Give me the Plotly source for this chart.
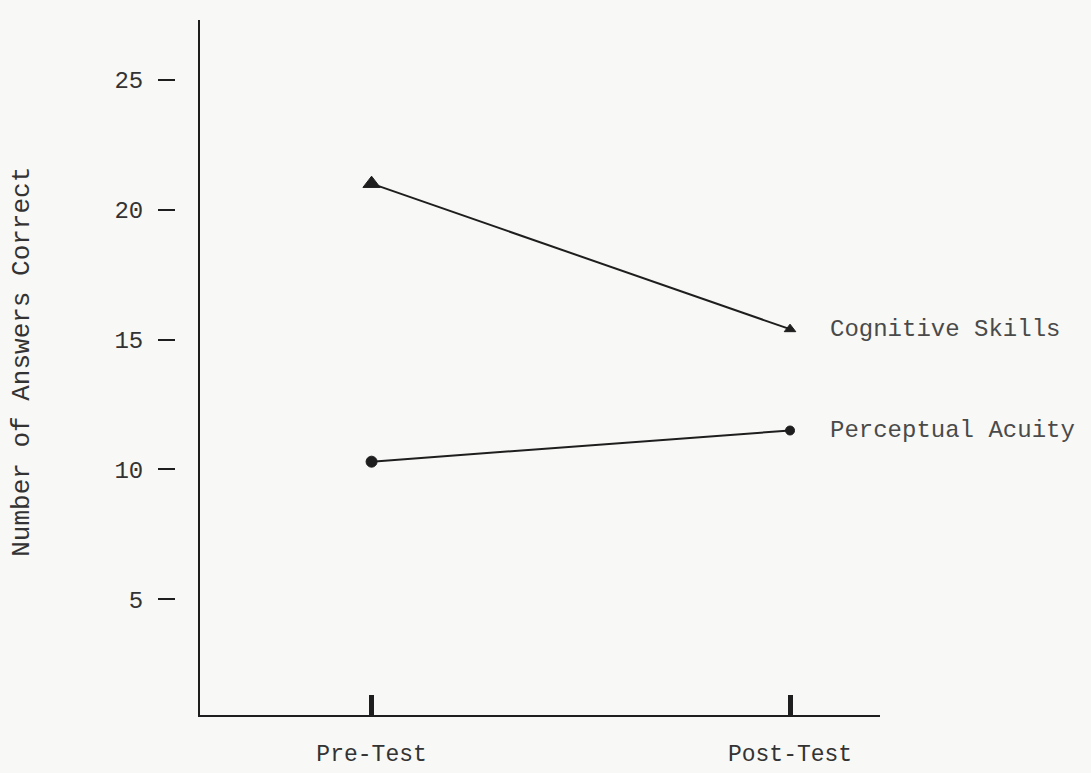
import plotly.graph_objects as go

tests = ["Pre-Test", "Post-Test"]
cognitive_skills = [21.0, 15.4]
perceptual_acuity = [10.3, 11.5]
y_ticks = [5, 10, 15, 20, 25]
series_labels = ["Cognitive Skills", "Perceptual Acuity"]

FONT = "Liberation Mono, Courier New, monospace"
INK = "#1e1e1e"
BG = "#f8f8f6"

fig = go.Figure()
fig.add_trace(go.Scatter(
    x=tests, y=cognitive_skills, mode="lines+markers",
    line=dict(color=INK, width=2),
    marker=dict(symbol="triangle-up", size=[15, 10], color=INK, opacity=1,
                line=dict(color=INK, width=1)),
    showlegend=False, hoverinfo="skip"))
fig.add_trace(go.Scatter(
    x=tests, y=perceptual_acuity, mode="lines+markers",
    line=dict(color=INK, width=2),
    marker=dict(symbol="circle", size=[11, 9], color=INK, opacity=1,
                line=dict(color=INK, width=1)),
    showlegend=False, hoverinfo="skip"))

for label, series in zip(series_labels, [cognitive_skills, perceptual_acuity]):
    fig.add_annotation(x=tests[-1], y=series[-1], text=label, showarrow=False,
                       xanchor="left", yanchor="middle", xshift=38,
                       font=dict(family=FONT, size=24, color="#4a4a4a"))

fig.add_annotation(xref="paper", yref="paper", x=-0.262, y=0.508,
                   text="Number of Answers Correct", showarrow=False, textangle=-90,
                   xanchor="center", yanchor="middle",
                   font=dict(family=FONT, size=26, color="#333333"))

yr = [0.55, 27.3]
fig.update_layout(
    width=1091, height=773,
    paper_bgcolor=BG, plot_bgcolor=BG,
    margin=dict(l=200, r=211, t=20, b=58, autoexpand=False),
    font=dict(family=FONT, color="#333333"),
    xaxis=dict(type="category", range=[-0.41, 1.215], showgrid=False, zeroline=False,
               showline=True, linecolor=INK, linewidth=2, automargin=False,
               ticks="inside", ticklen=20, tickwidth=5, tickcolor=INK,
               ticklabelstandoff=16, tickfont=dict(family=FONT, size=23, color="#333333")),
    yaxis=dict(range=yr, showgrid=False, zeroline=False, showline=True, automargin=False,
               linecolor=INK, linewidth=2, ticks="", showticklabels=False,
               tickvals=y_ticks),
    yaxis2=dict(range=yr, overlaying="y", anchor="free", position=0, shift=-25,
                showgrid=False, zeroline=False, showline=False, automargin=False,
                tickvals=y_ticks, ticks="outside", ticklen=17, tickwidth=2,
                tickcolor=INK, ticklabelstandoff=10,
                tickfont=dict(family=FONT, size=24, color="#333333")),
)
fig.add_trace(go.Scatter(x=tests, y=[None, None], yaxis="y2", showlegend=False,
                         hoverinfo="skip", mode="lines"))
fig.write_html("out.html", config={"displayModeBar": False},
               post_script="document.body.style.margin='0';document.body.style.background='%s';" % BG)
